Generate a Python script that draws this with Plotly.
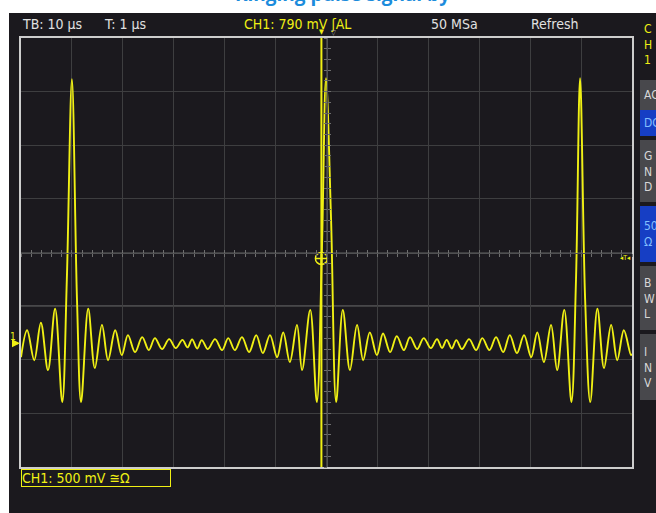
import plotly.graph_objects as go

# ---------------- data ----------------
# CH1 waveform turning points: time in µs (screen centre = 0), voltage in V
time_us = [-60.0, -58.8, -57.4, -56.1, -54.7, -53.3, -51.9, -51.0, -50.0, -49.0,
           -48.2, -46.8, -45.5, -44.1, -42.9, -41.5, -40.2, -39.0, -37.6, -36.2,
           -34.9, -33.7, -32.3, -30.9, -29.6, -28.3, -27.3, -26.4, -25.4, -24.5,
           -23.3, -21.9, -20.5, -19.3, -18.0, -16.6, -15.2, -13.8, -12.5, -11.1,
           -9.7, -8.5, -7.2, -5.8, -4.8, -3.2, -1.9, -0.9, -0.1, 0.9,
           1.9, 3.2, 4.6, 6.0, 7.2, 8.5, 9.9, 11.1, 12.5, 13.8,
           15.2, 16.4, 17.8, 19.1, 20.5, 21.7, 22.7, 23.6, 24.6, 25.5,
           26.6, 28.0, 29.4, 30.6, 32.0, 33.3, 34.7, 36.0, 37.4, 38.8,
           40.2, 41.4, 42.7, 44.1, 45.3, 46.7, 48.1, 49.0, 49.8, 50.8,
           51.8, 53.2, 54.5, 55.9, 57.1, 58.4, 59.8, 60.0]
ch1_v = [-0.131, 0.12, -0.159, 0.19, -0.252, 0.32, -0.55, 0.59, 2.46, 0.40,
         -0.55, 0.32, -0.233, 0.17, -0.159, 0.12, -0.112, 0.075, -0.084, 0.056,
         -0.065, 0.047, -0.056, 0.037, -0.047, 0.03, -0.04, 0.035, -0.05, 0.028,
         -0.056, 0.037, -0.065, 0.047, -0.065, 0.056, -0.084, 0.075, -0.093, 0.075,
         -0.131, 0.10, -0.177, 0.17, -0.252, 0.31, -0.55, 0.87, 2.47, 1.15,
         -0.55, 0.31, -0.252, 0.17, -0.159, 0.10, -0.112, 0.09, -0.084, 0.065,
         -0.065, 0.056, -0.056, 0.047, -0.047, 0.037, -0.045, 0.03, -0.05, 0.028,
         -0.056, 0.037, -0.065, 0.047, -0.065, 0.056, -0.084, 0.075, -0.093, 0.075,
         -0.131, 0.10, -0.177, 0.17, -0.252, 0.31, -0.55, 0.59, 2.47, 0.40,
         -0.55, 0.32, -0.233, 0.17, -0.159, 0.12, -0.112, -0.10]

# scope settings
time_per_div_us = 10
volt_per_div = 0.5
n_div_x = 12
n_div_y = 8
ground_div_from_bottom = 2.31
trigger_time_us = -1.0
trigger_level_v = 0.79
bright_line_div_from_bottom = 3

page_title = "Ringing pulse signal by"
header_labels = ["TB: 10 µs", "T: 1 µs", "CH1: 790 mV ʃAL", "50 MSa", "Refresh"]
channel_label = "CH1: 500 mV ≅Ω"
side_buttons = ["AC", "DC", "G<br>N<br>D", "50<br>Ω", "B<br>W<br>L", "I<br>N<br>V"]

# ---------------- styling ----------------
W, H = 656, 513
BG = "rgb(27,25,30)"
GRID = "rgb(62,62,64)"
FRAME = "rgb(205,205,205)"
YEL = "rgb(240,240,20)"
FONT = "Liberation Sans Narrow, DejaVu Sans Condensed, DejaVu Sans, sans-serif"

def px(x):
    return x / W

def py(y):
    return (H - y) / H

x_lo = -time_per_div_us * n_div_x / 2
x_hi = time_per_div_us * n_div_x / 2
y_lo = -ground_div_from_bottom * volt_per_div
y_hi = y_lo + n_div_y * volt_per_div

fig = go.Figure()
fig.add_trace(go.Scatter(
    x=time_us, y=ch1_v, mode="lines",
    line=dict(color=YEL, width=1.9, shape="spline", smoothing=1.0),
    hoverinfo="skip", showlegend=False))

# trigger crosshair
fig.add_trace(go.Scatter(
    x=[trigger_time_us], y=[trigger_level_v], mode="markers",
    marker=dict(symbol="circle-cross-open", size=12, color=YEL, line=dict(width=1.5, color=YEL)),
    hoverinfo="skip", showlegend=False))

dom_x = [px(21), px(632)]
dom_y = [py(467), py(38)]

fig.update_layout(
    width=W, height=H,
    margin=dict(l=0, r=0, t=0, b=0),
    paper_bgcolor="white",
    plot_bgcolor=BG,
    showlegend=False,
    xaxis=dict(domain=dom_x, range=[x_lo, x_hi], tick0=x_lo, dtick=time_per_div_us,
               showgrid=True, gridcolor=GRID, gridwidth=1, zeroline=False,
               showticklabels=False, ticks="", showline=True, linecolor=FRAME,
               linewidth=2, mirror=True, fixedrange=True),
    yaxis=dict(domain=dom_y, range=[y_lo, y_hi], tick0=y_lo, dtick=volt_per_div,
               showgrid=True, gridcolor=GRID, gridwidth=1, zeroline=False,
               showticklabels=False, ticks="", showline=True, linecolor=FRAME,
               linewidth=2, mirror=True, fixedrange=True),
)

# centre graticule axes with 1/5-division ticks on both sides
centre_y_paper = (dom_y[0] + dom_y[1]) / 2
centre_x_paper = (dom_x[0] + dom_x[1]) / 2
for name, side in (("xaxis2", "inside"), ("xaxis3", "outside")):
    fig.layout[name] = dict(overlaying="x", anchor="free", position=centre_y_paper,
                            range=[x_lo, x_hi], tick0=x_lo, dtick=time_per_div_us / 5,
                            ticks=side, ticklen=3, tickcolor="rgb(110,110,110)",
                            showline=True, linecolor="rgb(80,80,82)", linewidth=1,
                            showgrid=False, zeroline=False, showticklabels=False,
                            domain=dom_x, fixedrange=True)
for name, side in (("yaxis2", "inside"), ("yaxis3", "outside")):
    fig.layout[name] = dict(overlaying="y", anchor="free", position=centre_x_paper,
                            range=[y_lo, y_hi], tick0=y_lo, dtick=volt_per_div / 5,
                            ticks=side, ticklen=3, tickcolor="rgb(110,110,110)",
                            showline=True, linecolor="rgb(80,80,82)", linewidth=1,
                            showgrid=False, zeroline=False, showticklabels=False,
                            domain=dom_y, fixedrange=True)
fig.add_trace(go.Scatter(x=[None], y=[None], xaxis="x2", yaxis="y2", showlegend=False))
fig.add_trace(go.Scatter(x=[None], y=[None], xaxis="x3", yaxis="y3", showlegend=False))

shapes = []
# dark instrument background
shapes.append(dict(type="rect", xref="paper", yref="paper", x0=px(9), x1=1.01, y0=-0.01, y1=py(13),
                   fillcolor=BG, line=dict(width=0), layer="below"))
# brighter reference line
bright_v = y_lo + bright_line_div_from_bottom * volt_per_div
shapes.append(dict(type="line", xref="x domain", yref="y", x0=0, x1=1, y0=bright_v, y1=bright_v,
                   line=dict(color="rgb(150,150,150)", width=1), layer="below"))
# trigger position line
shapes.append(dict(type="line", xref="x", yref="y domain", x0=trigger_time_us, x1=trigger_time_us,
                   y0=0, y1=1, line=dict(color=YEL, width=2)))
# side panel buttons (y pixel ranges)
btn_boxes = [(80, 110, "rgb(72,72,76)"), (110, 136, "rgb(22,62,196)"),
             (140, 202, "rgb(72,72,76)"), (206, 262, "rgb(22,62,196)"),
             (266, 330, "rgb(72,72,76)"), (334, 400, "rgb(72,72,76)")]
for y0, y1, c in btn_boxes:
    shapes.append(dict(type="rect", xref="paper", yref="paper", x0=px(640), x1=px(662),
                       y0=py(y1), y1=py(y0), fillcolor=c, line=dict(width=0), layer="above"))
fig.update_layout(shapes=shapes)

ann = []
# page heading, mostly cropped above the screenshot
ann.append(dict(text="<b>" + page_title + "</b>", x=px(342), y=py(9), xref="paper", yref="paper",
                xanchor="center", yanchor="bottom", showarrow=False,
                font=dict(family="Open Sans, sans-serif", size=19, color="rgb(28,140,220)")))
hdr_x = [20, 102, 242, 429, 529]
hdr_c = ["rgb(225,225,225)", "rgb(225,225,225)", YEL, "rgb(225,225,225)", "rgb(225,225,225)"]
for t, xx, c in zip(header_labels, hdr_x, hdr_c):
    ann.append(dict(text=t, x=px(xx), y=py(24), xref="paper", yref="paper", xanchor="left",
                    yanchor="middle", showarrow=False, font=dict(family=FONT, size=14, color=c)))
# channel box
ann.append(dict(text=channel_label, x=px(21), y=py(478), xref="paper", yref="paper",
                xanchor="left", yanchor="middle", showarrow=False, align="left", width=148,
                bordercolor=YEL, borderwidth=1, borderpad=0,
                font=dict(family=FONT, size=14, color=YEL)))
# CH1 side title
ann.append(dict(text="C<br>H<br>1", x=px(642), y=py(44), xref="paper", yref="paper",
                xanchor="left", yanchor="middle", showarrow=False, align="left",
                font=dict(family=FONT, size=12, color=YEL)))
btn_centres = [95, 123, 171, 234, 298, 367]
btn_colors = ["rgb(215,215,215)", "rgb(130,190,255)", "rgb(215,215,215)", "rgb(130,190,255)",
              "rgb(215,215,215)", "rgb(215,215,215)"]
for t, yc, c in zip(side_buttons, btn_centres, btn_colors):
    ann.append(dict(text=t, x=px(642), y=py(yc), xref="paper", yref="paper", xanchor="left",
                    yanchor="middle", showarrow=False, align="left",
                    font=dict(family=FONT, size=12, color=c)))
# ground marker
ann.append(dict(text="1", x=px(13), y=0.06, xref="paper", yref="y", xanchor="center",
                yanchor="middle", showarrow=False, font=dict(family=FONT, size=10, color=YEL)))
ann.append(dict(text="", x=px(20), y=0, ax=-9, ay=0, xref="paper", yref="y",
                showarrow=True, arrowhead=2, arrowsize=0.8, arrowwidth=2, arrowcolor=YEL))
# trigger level marker on the right
ann.append(dict(text="◂T◂", x=px(633), y=trigger_level_v, xref="paper", yref="y",
                xanchor="right", yanchor="middle", showarrow=False,
                font=dict(family=FONT, size=7, color=YEL)))
# trigger position markers at the top
ann.append(dict(text="▼", x=trigger_time_us, y=py(38), xref="x", yref="paper",
                xanchor="center", yanchor="bottom", showarrow=False,
                font=dict(family=FONT, size=7, color=YEL)))
ann.append(dict(text="▽", x=0.4, y=py(39), xref="x", yref="paper",
                xanchor="left", yanchor="bottom", showarrow=False,
                font=dict(family=FONT, size=7, color="rgb(170,170,170)")))
fig.update_layout(annotations=ann)

fig.write_html("out.html",
               config={"displayModeBar": False},
               post_script="document.body.style.margin='0';document.body.style.overflow='hidden';")
